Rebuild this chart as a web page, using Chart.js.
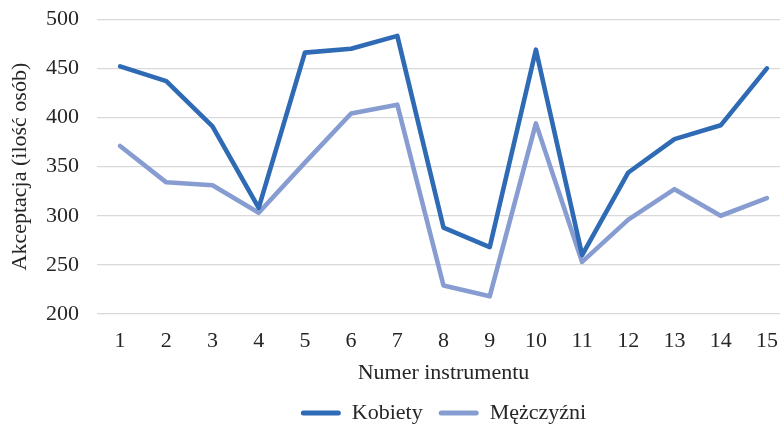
<!DOCTYPE html>
<html>
<head>
<meta charset="utf-8">
<script src="https://cdn.jsdelivr.net/npm/chart.js@4/dist/chart.umd.min.js"></script>
<style>
  html, body { margin: 0; padding: 0; background: #fff; overflow: hidden; }
  #wrap { position: absolute; left: 0; top: 0; width: 792px; height: 426px; }
</style>
</head>
<body>
<div id="wrap"><canvas id="c" width="792" height="426"></canvas></div>
<script>
// Instrument numbers on the category axis
const instruments = ['1','2','3','4','5','6','7','8','9','10','11','12','13','14','15'];
// Acceptance counts per instrument
const kobiety    = [452, 437, 391, 308, 466, 470, 483, 288, 268, 469, 260, 344, 378, 392, 450];
const mezczyzni  = [371, 334, 331, 303, 354, 404, 413, 229, 218, 394, 253, 296, 327, 300, 318];
const yTicks = [200, 250, 300, 350, 400, 450, 500];

const FONT = { family: '"Liberation Serif", "Times New Roman", serif', size: 22 };
const TEXT = '#262626';

new Chart(document.getElementById('c'), {
  type: 'line',
  data: {
    labels: instruments,
    datasets: [
      {
        label: 'Kobiety',
        data: kobiety,
        borderColor: '#2F6AB5',
        backgroundColor: '#2F6AB5',
        borderWidth: 4.6,
        pointRadius: 0,
        tension: 0,
        borderJoinStyle: 'round',
        borderCapStyle: 'round'
      },
      {
        label: 'Mężczyźni',
        data: mezczyzni,
        borderColor: '#879DD2',
        backgroundColor: '#879DD2',
        borderWidth: 4.6,
        pointRadius: 0,
        tension: 0,
        borderJoinStyle: 'round',
        borderCapStyle: 'round'
      }
    ]
  },
  options: {
    responsive: false,
    animation: false,
    devicePixelRatio: 1,
    layout: { padding: { left: 0, right: 2, top: 6, bottom: 0 } },
    plugins: {
      tooltip: { enabled: false },
      legend: {
        position: 'bottom',
        fullSize: false,
        maxHeight: 40,
        labels: {
          font: FONT,
          color: TEXT,
          boxWidth: 40,
          boxHeight: 5,
          padding: 16,
          generateLabels(chart) {
            const items = Chart.defaults.plugins.legend.labels.generateLabels(chart);
            items.forEach(i => { i.lineWidth = 0; i.fillStyle = i.strokeStyle; i.borderRadius = 2.5; });
            return items;
          }
        }
      }
    },
    scales: {
      x: {
        type: 'category',
        offset: true,
        grid: { display: false, drawTicks: false },
        border: { display: false },
        ticks: { font: FONT, color: TEXT, padding: 14, maxRotation: 0, autoSkip: false },
        title: { display: true, text: 'Numer instrumentu', font: FONT, color: TEXT, padding: { top: 10, bottom: 0 } },
        afterFit(scale) { scale.height = 72; }
      },
      y: {
        min: 200,
        max: 500,
        afterBuildTicks(scale) { scale.ticks = yTicks.map(v => ({ value: v })); },
        // invisible tick marks keep the labels clear of the plot edge
        grid: { color: '#D9D9D9', lineWidth: 1.3, drawTicks: true, tickLength: 12, tickColor: 'rgba(0,0,0,0)' },
        border: { display: false },
        ticks: { font: FONT, color: TEXT, padding: 6 },
        title: { display: true, text: 'Akceptacja (ilość osób)', font: FONT, color: TEXT, padding: { top: 7, bottom: 0 } },
        afterFit(scale) { scale.width = 97; }
      }
    }
  }
});
</script>
</body>
</html>
